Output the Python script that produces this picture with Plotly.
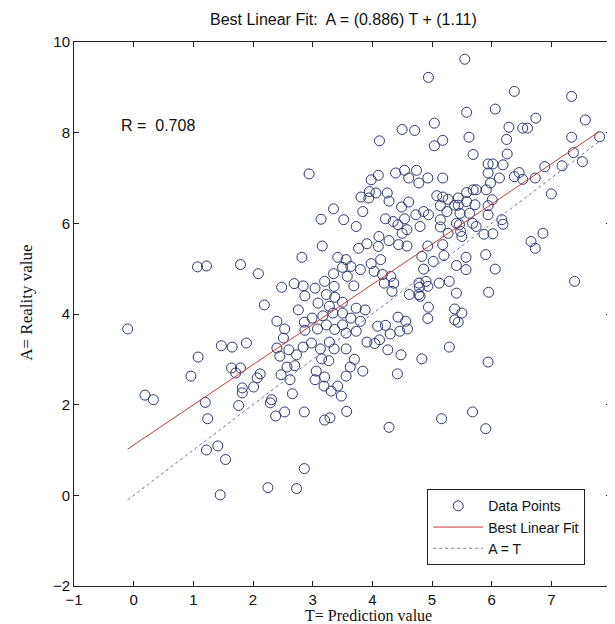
import plotly.graph_objects as go

# Data points (T = prediction, A = reality)
T_vals = [
 4.50,4.71,4.12,2.94,4.10,3.98,4.39,4.54,4.74,4.61,4.78,3.95,4.06,3.81,3.94,4.25,4.28,3.35,3.84,4.61,4.49,3.14,3.52,3.73,4.22,4.35,4.54,4.73,4.43,
 4.11,3.16,3.77,3.91,4.10,4.28,4.44,4.58,4.50,4.58,
 2.82,1.79,2.09,3.42,3.56,3.50,3.64,3.80,3.58,3.35,3.69,3.98,4.14,4.03,4.17,4.31,4.20,4.36,4.33,4.78,4.62,4.78,
 2.48,2.69,2.84,3.04,3.20,3.36,2.87,3.23,3.37,2.19,2.76,3.09,3.28,3.50,3.73,3.88,2.99,3.17,3.34,3.50,3.64,3.80,2.40,2.53,2.86,2.87,3.08,3.23,3.37,3.50,3.56,3.73,4.09,4.22,4.30,4.43,4.56,4.46,4.59,3.91,4.12,4.04,4.26,4.48,4.83,1.89,2.40,2.51,2.45,2.60,2.73,2.84,2.98,3.13,3.28,3.36,3.56,3.15,3.27,2.70,2.57,3.70,3.63,3.84,4.42,2.12,2.07,2.47,2.62,3.06,3.20,3.04,3.19,3.42,3.56,2.01,2.31,2.66,3.31,3.48,
 1.07,1.22,-0.10,1.08,1.47,1.65,0.96,1.64,1.71,1.79,1.82,1.82,0.19,0.33,1.20,1.76,
 1.24,1.22,1.41,1.54,1.45,
 2.29,2.38,2.53,2.86,3.20,3.29,3.57,4.28,2.86,2.25,2.73,
 5.16,5.68,5.90,
 4.80,5.14,5.27,5.46,5.50,5.74,5.87,6.02,6.19,6.86,6.66,6.73,4.93,5.18,4.83,5.20,5.02,5.57,5.90,5.41,5.57,6.06,4.86,4.90,4.79,4.93,5.12,5.29,4.80,5.41,5.95,7.39,4.94,5.38,5.50,4.93,5.38,5.44,5.29,5.94,
 5.55,4.94,6.38,7.34,5.58,6.06,6.74,7.57,5.04,5.18,5.04,5.62,6.29,6.52,6.60,6.25,7.34,7.81,5.69,6.26,7.37,4.93,5.18,7.52,7.18,6.89,5.94,6.02,6.19,5.94,6.46,6.38,6.13,6.52,6.73,5.98,7.00,5.91,5.08,5.18,5.27,5.44,5.58,5.69,5.74,6.01,5.14,5.38,5.44,5.58,5.72,5.94,4.86,4.94,5.25,5.47,5.63,5.94,5.14,5.41,5.68,6.17,5.48,
]
A_vals = [
 8.07,8.05,7.82,7.09,7.06,6.96,7.11,7.17,7.17,7.00,6.89,6.70,6.67,6.58,6.56,6.67,6.49,6.32,6.26,6.47,6.36,6.09,6.08,5.93,6.10,6.04,6.10,6.19,5.97,
 5.71,5.50,5.45,5.55,5.49,5.62,5.53,5.50,5.78,5.86,
 5.25,5.09,4.89,5.25,5.20,5.03,5.05,4.98,4.83,4.89,4.62,5.11,5.20,4.94,4.87,4.83,4.68,4.68,4.50,4.68,4.43,4.43,
 4.59,4.67,4.62,4.57,4.72,4.61,4.40,4.43,4.37,4.20,4.09,4.24,4.17,4.26,4.13,4.09,3.91,3.96,4.02,4.02,3.91,3.84,3.84,3.67,3.82,3.64,3.67,3.76,3.66,3.76,3.58,3.62,3.73,3.75,3.56,3.93,3.84,3.62,3.67,3.38,3.43,3.35,3.21,3.10,3.01,3.36,3.25,3.47,3.07,3.21,3.10,3.27,3.36,3.23,3.38,3.23,3.23,3.01,2.97,2.86,2.83,3.00,2.83,2.74,2.68,2.68,2.59,2.66,2.55,2.74,2.61,2.55,2.41,2.41,2.63,2.39,2.11,2.24,2.30,2.19,
 5.04,5.06,3.67,3.05,3.30,3.27,2.63,2.81,2.70,2.81,2.37,2.26,2.21,2.11,2.05,1.98,
 1.69,1.00,1.09,0.79,0.01,
 2.04,1.75,1.84,1.84,1.66,1.71,1.85,1.50,0.59,0.17,0.15,
 1.69,1.84,1.47,
 5.93,5.92,5.78,5.97,5.71,5.93,5.76,5.77,5.98,5.78,5.60,5.45,5.50,5.53,5.27,5.29,5.16,5.25,5.31,5.07,4.98,4.99,4.99,4.72,4.59,4.61,4.68,4.72,4.39,4.46,4.48,4.72,4.15,4.11,4.02,3.90,3.87,3.82,3.27,2.94,
 9.62,9.22,8.91,8.80,8.45,8.52,8.32,8.28,8.21,7.83,7.71,7.90,8.12,8.10,8.10,7.85,7.90,7.91,7.52,7.53,7.56,7.00,7.00,7.36,7.27,7.25,7.31,7.31,7.29,7.11,7.12,7.03,7.00,6.97,7.00,6.89,6.65,6.74,6.61,6.58,6.53,6.56,6.68,6.74,6.74,6.52,6.39,6.40,6.40,6.48,6.41,6.39,6.26,6.19,6.26,6.22,6.22,6.19,6.08,6.00,6.00,6.08,5.82,
]

fit_slope = 0.886
fit_intercept = 1.11
r_value = 0.708
x_ticks = [-1, 0, 1, 2, 3, 4, 5, 6, 7, 8]
y_ticks = [-2, 0, 2, 4, 6, 8, 10]

t_min, t_max = min(T_vals), max(T_vals)
line_T = [t_min, t_max]
fit_A = [fit_slope * t + fit_intercept for t in line_T]

SANS = "Liberation Sans, Arial, sans-serif"
SERIF = "Liberation Serif, Times New Roman, serif"

fig = go.Figure()
fig.add_trace(go.Scatter(
    x=T_vals, y=A_vals, mode="markers", name="Data Points",
    marker=dict(symbol="circle-open", size=10, color="#2c3672", line=dict(width=1))))
fig.add_trace(go.Scatter(
    x=line_T, y=fit_A, mode="lines", name="Best Linear Fit",
    line=dict(color="#c03a36", width=1)))
fig.add_trace(go.Scatter(
    x=line_T, y=line_T, mode="lines", name="A = T",
    line=dict(color="#6a78a0", width=1, dash="dot")))

axis_common = dict(showgrid=False, zeroline=False, showline=True, linecolor="#222",
                   linewidth=1, mirror="ticks", ticks="inside", ticklen=5, tickcolor="#222",
                   tickfont=dict(family=SANS, size=15, color="#111"))
fig.update_xaxes(range=[-1, 8], tickvals=x_ticks, **axis_common)
fig.update_yaxes(range=[-2, 10], tickvals=y_ticks, **axis_common)

fig.update_layout(
    width=615, height=624,
    margin=dict(l=66, r=8, t=34, b=46),
    paper_bgcolor="white", plot_bgcolor="white",
    showlegend=True,
    legend=dict(x=0.952, y=0.108, xanchor="right", yanchor="middle",
                bordercolor="#222", borderwidth=1, bgcolor="white",
                font=dict(family=SANS, size=14, color="#111"),
                tracegroupgap=0, itemwidth=50),
    annotations=[
        dict(text="Best Linear Fit:  A = (0.886) T + (1.11)", xref="paper", yref="paper",
             x=0.502, y=1.041, xanchor="center", yanchor="middle", showarrow=False,
             font=dict(family=SANS, size=16, color="#111")),
        dict(text="R =  %.3f" % r_value, xref="x", yref="y", x=-0.25, y=8.15,
             xanchor="left", yanchor="middle", showarrow=False,
             font=dict(family=SANS, size=16, color="#111")),
        dict(text="T= Prediction value", xref="paper", yref="paper",
             x=0.549, y=-0.054, xanchor="center", yanchor="middle", showarrow=False,
             font=dict(family=SERIF, size=16, color="#111")),
        dict(text="A= Reality value", xref="paper", yref="paper",
             x=-0.09, y=0.52, xanchor="center", yanchor="middle", showarrow=False,
             textangle=-90, font=dict(family=SERIF, size=17, color="#111")),
    ],
)

fig.write_html("out.html")
